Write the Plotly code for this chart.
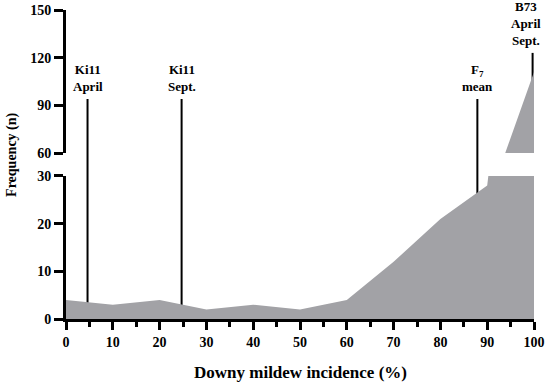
import plotly.graph_objects as go

# ---- data ----
incidence = [0, 10, 20, 30, 40, 50, 60, 70, 80, 90, 100]
frequency = [4, 3, 4, 2, 3, 2, 4, 12, 21, 28, 111]

marker_x = [4.6, 24.7, 87.9, 99.7]
marker_top = [94, 94, 94, 123]
marker_panel = ["low", "low", "low", "high"]
marker_labels = ["Ki11<br>April", "Ki11<br>Sept.", "F<sub>7</sub><br>mean", "B73<br>April<br>Sept."]
label_xshift = [0, 0, 0, -7]

low_ticks = [0, 10, 20, 30]
high_ticks = [60, 90, 120, 150]
x_ticks = [0, 10, 20, 30, 40, 50, 60, 70, 80, 90, 100]

LOW_RANGE = [0, 30]
HIGH_RANGE = [60, 150]
LOW_DOM = [0, 0.4628]
HIGH_DOM = [0.5372, 1]

GREY = "#a2a2a6"
FONT = "Liberation Serif"


def y2_to_paper(v):
    return HIGH_DOM[0] + (v - HIGH_RANGE[0]) / (HIGH_RANGE[1] - HIGH_RANGE[0]) * (HIGH_DOM[1] - HIGH_DOM[0])


def bold(size):
    return dict(family=FONT, size=size, color="black", weight="bold")


fig = go.Figure()
for ax in ["y", "y2"]:
    fig.add_trace(go.Scatter(
        x=incidence, y=frequency, mode="lines", yaxis=ax,
        line=dict(width=0, color=GREY), fill="tozeroy", fillcolor=GREY,
        hoverinfo="skip", showlegend=False))

for xm, top, panel, lab, xs in zip(marker_x, marker_top, marker_panel, marker_labels, label_xshift):
    base = LOW_DOM[0] if panel == "low" else HIGH_DOM[0]
    fig.add_shape(type="line", xref="x", yref="paper", x0=xm, x1=xm,
                  y0=base, y1=y2_to_paper(top), layer="below",
                  line=dict(color="black", width=2))
    fig.add_annotation(x=xm, y=top, xref="x", yref="y2", text=lab,
                       showarrow=False, yanchor="bottom", yshift=3, xshift=xs,
                       font=bold(13))

axis_common = dict(showline=True, linewidth=3, linecolor="black", ticks="outside",
                   tickwidth=3, tickcolor="black", showgrid=False, zeroline=False,
                   automargin=False, ticklabeloverflow="allow", tickfont=bold(14))

fig.update_layout(
    width=550, height=384,
    margin=dict(l=66, r=16, t=10, b=65, autoexpand=False),
    paper_bgcolor="white", plot_bgcolor="rgba(0,0,0,0)",
    xaxis=dict(range=[0, 100], tickvals=x_ticks, ticklen=8,
               minor=dict(dtick=5, ticklen=5, tickwidth=3, ticks="outside", tickcolor="black"),
               **axis_common),
    yaxis=dict(range=LOW_RANGE, domain=LOW_DOM, tickvals=low_ticks, ticklen=9, **axis_common),
    yaxis2=dict(range=HIGH_RANGE, domain=HIGH_DOM, tickvals=high_ticks, ticklen=9, anchor="x", **axis_common),
)

fig.add_annotation(text="Downy mildew incidence (%)", xref="paper", yref="paper",
                   x=0.5, y=0, yshift=-53, showarrow=False, yanchor="middle",
                   font=bold(17))
fig.add_annotation(text="Frequency (n)", xref="paper", yref="paper", textangle=-90,
                   x=0, y=0.531, xshift=-54, showarrow=False, xanchor="center", yanchor="middle",
                   font=bold(14))

fig.write_html("out.html", config={"displayModeBar": False},
               post_script="document.body.style.margin='0';")
